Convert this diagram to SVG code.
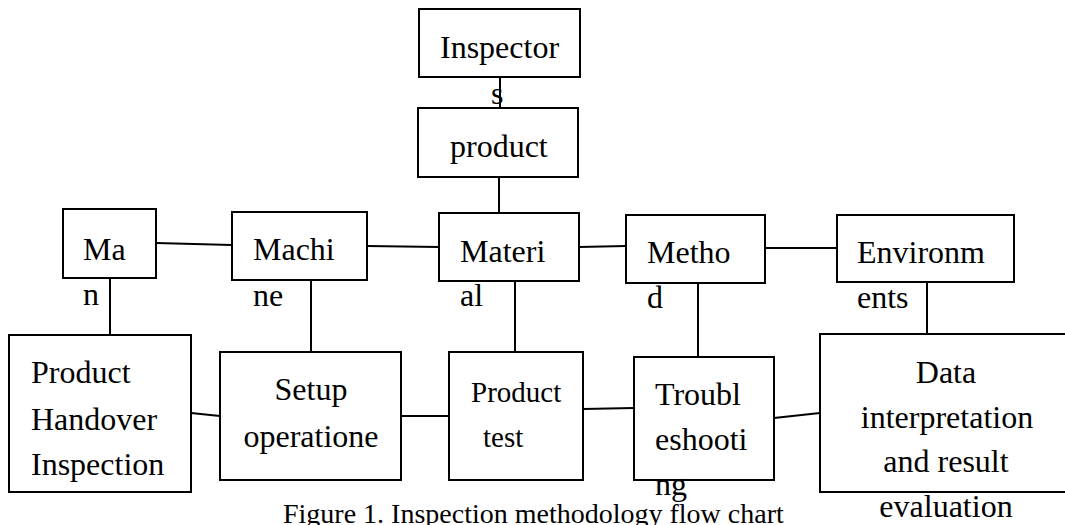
<svg xmlns="http://www.w3.org/2000/svg" width="1065" height="525" viewBox="0 0 1065 525">
  <style>
    .box { fill: #ffffff; stroke: #000000; stroke-width: 2; }
    .link { fill: none; stroke: #000000; stroke-width: 2; }
    text { font-family: "Liberation Serif", "Times New Roman", serif; font-size: 32px; fill: #000000; }
    .small { font-size: 29px; }
    .mid { text-anchor: middle; }
  </style>
  <rect x="0" y="0" width="1065" height="525" fill="#ffffff"/>

  <!-- connectors -->
  <g id="connectors">
    <line class="link" x1="500" y1="77" x2="500" y2="108"/>
    <line class="link" x1="499" y1="177" x2="499" y2="213"/>
    <line class="link" x1="156" y1="243" x2="232" y2="245"/>
    <line class="link" x1="367" y1="246" x2="439" y2="247"/>
    <line class="link" x1="579" y1="247" x2="626" y2="246"/>
    <line class="link" x1="765" y1="248" x2="837" y2="248"/>
    <line class="link" x1="110" y1="278" x2="110" y2="335"/>
    <line class="link" x1="311" y1="280" x2="311" y2="352"/>
    <line class="link" x1="515" y1="281" x2="515" y2="352"/>
    <line class="link" x1="698" y1="283" x2="698" y2="357"/>
    <line class="link" x1="927" y1="282" x2="927" y2="334"/>
    <line class="link" x1="191" y1="413" x2="220" y2="416"/>
    <line class="link" x1="401" y1="416" x2="449" y2="416"/>
    <line class="link" x1="583" y1="409" x2="634" y2="408"/>
    <line class="link" x1="774" y1="418" x2="820" y2="413"/>
  </g>

  <g id="inspectors">
    <rect class="box" x="419" y="9" width="161" height="68"/>
    <text x="440" y="58">Inspector</text>
    <text x="491" y="104">s</text>
  </g>
  <g id="product">
    <rect class="box" x="418" y="108" width="160" height="69"/>
    <text x="450" y="157">product</text>
  </g>

  <g id="man">
    <rect class="box" x="63" y="209" width="93" height="69"/>
    <text x="83" y="260">Ma</text>
    <text x="83" y="305">n</text>
  </g>
  <g id="machine">
    <rect class="box" x="232" y="212" width="135" height="68"/>
    <text x="253" y="260">Machi</text>
    <text x="253" y="306">ne</text>
  </g>
  <g id="material">
    <rect class="box" x="439" y="213" width="140" height="68"/>
    <text x="460" y="262">Materi</text>
    <text x="460" y="306">al</text>
  </g>
  <g id="method">
    <rect class="box" x="626" y="215" width="139" height="68"/>
    <text x="647" y="263">Metho</text>
    <text x="647" y="308">d</text>
  </g>
  <g id="environments">
    <rect class="box" x="837" y="215" width="177" height="67"/>
    <text x="857" y="263">Environm</text>
    <text x="857" y="308">ents</text>
  </g>

  <g id="handover-inspection">
    <rect class="box" x="9" y="335" width="182" height="157"/>
    <text x="31" y="383">Product</text>
    <text x="31" y="430">Handover</text>
    <text x="31" y="475">Inspection</text>
  </g>
  <g id="setup-operation">
    <rect class="box" x="220" y="352" width="181" height="128"/>
    <text class="mid" x="311" y="400">Setup</text>
    <text class="mid" x="311" y="447">operatione</text>
  </g>
  <g id="product-test">
    <rect class="box" x="449" y="352" width="134" height="128"/>
    <text class="small" x="471" y="402">Product</text>
    <text class="small" x="483" y="447">test</text>
  </g>
  <g id="troubleshooting">
    <rect class="box" x="634" y="357" width="140" height="123"/>
    <text x="655" y="405">Troubl</text>
    <text x="655" y="450">eshooti</text>
    <text x="655" y="495">ng</text>
  </g>
  <g id="data-evaluation">
    <rect class="box" x="820" y="334" width="260" height="158"/>
    <text class="mid" x="946" y="383">Data</text>
    <text class="mid" x="947" y="428">interpretation</text>
    <text class="mid" x="946" y="472">and result</text>
    <text class="mid" x="946" y="517">evaluation</text>
  </g>

  <text id="caption" x="283" y="523" style="font-size:28px">Figure 1. Inspection methodology flow chart</text>
</svg>
